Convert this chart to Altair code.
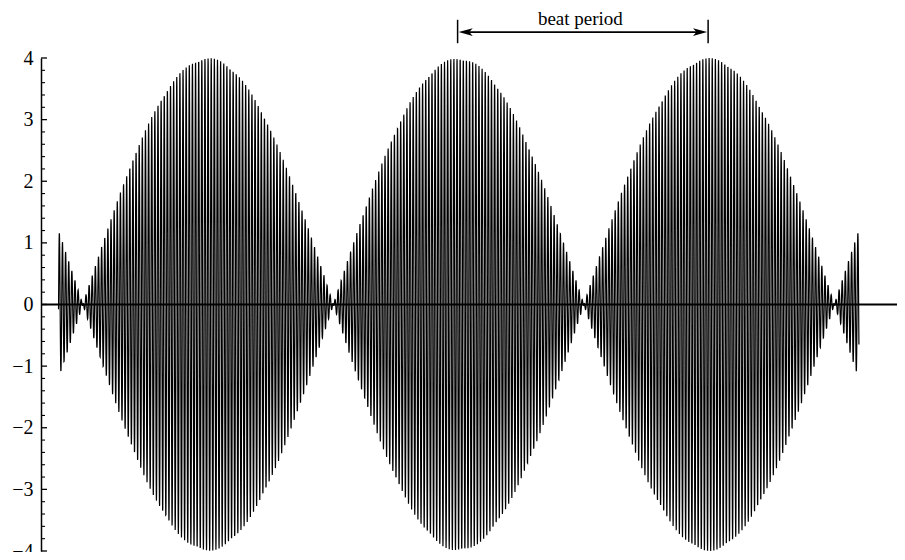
import numpy as np
import pandas as pd
import altair as alt

alt.data_transformers.disable_max_rows()

beat_peaks = [0.667, 1.667, 2.667]          # envelope maxima
signal_range = [0.07, 3.265]                 # where the trace starts / ends
x_domain = [0.0, 3.417]
carrier_cycles_per_beat = [80]               # fast oscillations per beat period
amplitudes = [2.0, 2.0]                      # the two summed tones (max 4)
y_major = [-4, -3, -2, -1, 0, 1, 2, 3, 4]
y_minor_step = [0.2]
annot_text = ["beat period"]
annot_span = [1.663, 2.663]

# --- build the beat signal: sum of two close tones ---
t0 = beat_peaks[0]
fc = carrier_cycles_per_beat[0]
t = np.linspace(signal_range[0], signal_range[1], 5600)
y = (amplitudes[0] * np.cos(2 * np.pi * (fc + 0.5) * (t - t0))
     + amplitudes[1] * np.cos(2 * np.pi * (fc - 0.5) * (t - t0)))
sig = pd.DataFrame({"t": t, "y": y})

minor = [round(m + k * y_minor_step[0], 2) for m in y_major[:-1] for k in range(1, 5)]
ticks_major = pd.DataFrame({"v": y_major})
ticks_minor = pd.DataFrame({"v": minor})
one = pd.DataFrame({"label": annot_text})

xs = alt.Scale(domain=x_domain, nice=False, zero=False)
ys = alt.Scale(domain=[-4, 4], nice=False, zero=False)
yaxis = alt.Axis(values=y_major, format="d", domain=True, domainColor="black", domainWidth=1.5,
                 ticks=False, grid=False, title=None, labelFont="Liberation Serif",
                 labelFontSize=20, labelColor="black", labelPadding=8)

line = alt.Chart(sig).mark_line(color="black", strokeWidth=1.2, clip=False).encode(
    x=alt.X("t:Q", scale=xs, axis=None),
    y=alt.Y("y:Q", scale=ys, axis=yaxis),
)

zero = alt.Chart(one).mark_rule(color="black", strokeWidth=2).encode(
    x=alt.datum(x_domain[0], scale=xs, axis=None),
    x2=alt.datum(x_domain[1]),
    y=alt.datum(0, scale=ys, axis=yaxis),
)

tmaj = alt.Chart(ticks_major).mark_rule(color="black", strokeWidth=1.3).encode(
    x=alt.value(0), x2=alt.value(6),
    y=alt.Y("v:Q", scale=ys, axis=yaxis),
)
tmin = alt.Chart(ticks_minor).mark_rule(color="black", strokeWidth=1.1).encode(
    x=alt.value(0), x2=alt.value(4),
    y=alt.Y("v:Q", scale=ys, axis=yaxis),
)

# annotation
arrow = alt.Chart(one).mark_rule(color="black", strokeWidth=1.6).encode(
    x=alt.datum(annot_span[0] + 0.02, scale=xs), x2=alt.datum(annot_span[1] - 0.02),
    y=alt.datum(4.42, scale=ys),
)
bar_l = alt.Chart(one).mark_rule(color="black", strokeWidth=1.5).encode(
    x=alt.datum(annot_span[0], scale=xs), y=alt.datum(4.62, scale=ys), y2=alt.datum(4.24),
)
bar_r = alt.Chart(one).mark_rule(color="black", strokeWidth=1.5).encode(
    x=alt.datum(annot_span[1], scale=xs), y=alt.datum(4.62, scale=ys), y2=alt.datum(4.24),
)
head_l = alt.Chart(one).mark_point(
    shape="M0,0 L2,-0.55 L1.5,0 L2,0.55 Z", filled=True, color="black", opacity=1, size=200
).encode(x=alt.datum(annot_span[0] + 0.004, scale=xs), y=alt.datum(4.42, scale=ys))
head_r = alt.Chart(one).mark_point(
    shape="M0,0 L-2,-0.55 L-1.5,0 L-2,0.55 Z", filled=True, color="black", opacity=1, size=200
).encode(x=alt.datum(annot_span[1] - 0.004, scale=xs), y=alt.datum(4.42, scale=ys))
label = alt.Chart(one).mark_text(
    font="Liberation Serif", fontSize=19, color="black", baseline="middle", align="center"
).encode(
    x=alt.datum((annot_span[0] + annot_span[1]) / 2 - 0.01, scale=xs),
    y=alt.datum(4.63, scale=ys),
    text="label:N",
)

chart = alt.layer(
    line, zero, tmaj, tmin, arrow, bar_l, bar_r, head_l, head_r, label
).properties(
    width=856, height=493,
    autosize=alt.AutoSizeParams(type="none"),
    padding={"left": 33, "top": 50, "right": 0, "bottom": 1},
    background="white",
).configure_view(stroke=None)

chart.save("out.html", embed_options={"renderer": "svg", "actions": False})
